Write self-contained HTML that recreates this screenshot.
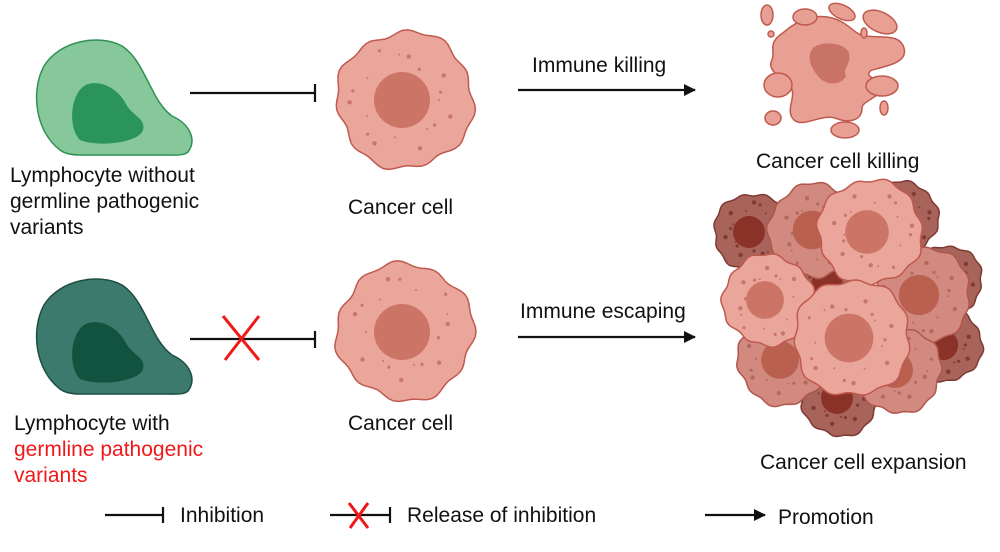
<!DOCTYPE html>
<html><head><meta charset="utf-8"><style>
body{margin:0;background:#fff;width:1000px;height:547px;overflow:hidden}
svg text{font-family:"Liberation Sans",Arial,sans-serif;font-size:21px;fill:#111}
</style></head><body>
<svg id="s" width="1000" height="547" viewBox="0 0 1000 547" xmlns="http://www.w3.org/2000/svg">
<defs><marker id="ah" markerWidth="12" markerHeight="12" refX="11" refY="6" orient="auto" markerUnits="userSpaceOnUse"><path d="M0,0 L12,6 L0,12 z" fill="#111"/></marker></defs>
<path d="M60,150 C36,132 30,92 44,66 C60,40 100,34 122,46 C146,62 150,100 172,116 C190,124 197,140 188,152 C184,156 175,155 160,155 L80,155 C70,155 64,153 60,150Z" fill="#86c89a" stroke="#2e9155" stroke-width="1.5"/>
<path d="M80,140 C68,128 70,96 84,86 C98,78 118,88 126,104 C132,116 146,118 143,130 C140,142 100,148 80,140Z" fill="#2b9458"/>
<g transform="translate(0,239)">
<path d="M60,150 C36,132 30,92 44,66 C60,40 100,34 122,46 C146,62 150,100 172,116 C190,124 197,140 188,152 C184,156 175,155 160,155 L80,155 C70,155 64,153 60,150Z" fill="#3b7a6c" stroke="#1e4e43" stroke-width="1.5"/>
<path d="M80,140 C68,128 70,96 84,86 C98,78 118,88 126,104 C132,116 146,118 143,130 C140,142 100,148 80,140Z" fill="#11533f"/>
</g>
<g stroke="#111" stroke-width="2.2" fill="none">
<line x1="190" y1="93" x2="315" y2="93"/><line x1="315" y1="84" x2="315" y2="102"/>
<line x1="190" y1="339" x2="315" y2="339"/><line x1="315" y1="331" x2="315" y2="348"/>
<line x1="518" y1="90" x2="695" y2="90" marker-end="url(#ah)"/>
<line x1="518" y1="337" x2="695" y2="337" marker-end="url(#ah)"/>
<line x1="105" y1="515" x2="163" y2="515"/><line x1="163" y1="507" x2="163" y2="523"/>
<line x1="330" y1="515" x2="390" y2="515"/><line x1="390" y1="507" x2="390" y2="523"/>
<line x1="705" y1="515" x2="765" y2="515" marker-end="url(#ah)"/>
</g>
<g stroke="#f01818" stroke-width="3">
<line x1="223" y1="316" x2="259" y2="360"/><line x1="259" y1="316" x2="225" y2="360"/>
<line x1="349" y1="503" x2="368" y2="528"/><line x1="368" y1="503" x2="350" y2="528"/>
</g>
<g id="cells"></g>
<g fill="#e8a095" stroke="#c0594e" stroke-width="1.5">
<path d="M784,32 C800,18 818,14 832,18 C848,22 854,34 864,36 C884,38 900,34 904,48 C908,62 888,66 872,70 C862,76 878,80 882,84 C886,96 862,100 862,108 C862,120 850,124 835,118 C820,114 804,128 794,120 C784,110 798,96 790,86 C782,78 766,70 772,60 C776,50 766,44 784,32Z"/>
<ellipse cx="767" cy="15" rx="6" ry="10"/><ellipse cx="805" cy="17" rx="12" ry="8"/><ellipse cx="842" cy="12" rx="14" ry="7" transform="rotate(25 842 12)"/>
<ellipse cx="880" cy="22" rx="18" ry="10" transform="rotate(25 880 22)"/><ellipse cx="882" cy="86" rx="16" ry="10"/>
<ellipse cx="778" cy="85" rx="14" ry="12"/><ellipse cx="773" cy="118" rx="8" ry="7"/><ellipse cx="845" cy="130" rx="14" ry="8"/><ellipse cx="884" cy="108" rx="4" ry="7"/><ellipse cx="771" cy="34" rx="3" ry="3"/><ellipse cx="864" cy="33" rx="3" ry="5"/>
</g>
<path d="M813,48 C823,40 845,43 849,53 C852,64 842,68 846,76 C841,86 825,86 818,76 C811,68 806,57 813,48Z" fill="#c97266"/>
<text x="10" y="182">Lymphocyte without</text>
<text x="10" y="208">germline pathogenic</text>
<text x="10" y="234">variants</text>
<text x="348" y="214">Cancer cell</text>
<text x="532" y="72">Immune killing</text>
<text x="756" y="168">Cancer cell killing</text>
<text x="520" y="318">Immune escaping</text>
<text x="348" y="430">Cancer cell</text>
<text x="14" y="430">Lymphocyte with</text>
<text x="14" y="456" style="fill:#f01818">germline pathogenic</text>
<text x="14" y="482" style="fill:#f01818">variants</text>
<text x="760" y="469">Cancer cell expansion</text>
<text x="180" y="522">Inhibition</text>
<text x="407" y="522">Release of inhibition</text>
<text x="778" y="524">Promotion</text>
</svg>
<script>
function cell(cx,cy,r,fill,stroke,nuc,nr,dot,seed){
 var n=11,d="",s=seed||0;
 for(var i=0;i<=90;i++){var a=i/90*Math.PI*2;var rr=r*(1+0.03*Math.sin(a*n+s)+0.03*Math.sin(a*4+s*2));
 var x=cx+rr*Math.cos(a),y=cy+rr*Math.sin(a);d+=(i?"L":"M")+x.toFixed(1)+","+y.toFixed(1);}
 var g='<path d="'+d+'Z" fill="'+fill+'" stroke="'+stroke+'" stroke-width="1.5"/>';
 g+='<circle cx="'+(cx-3)+'" cy="'+cy+'" r="'+nr+'" fill="'+nuc+'"/>';
 for(var k=0;k<18;k++){var a=k*2.4+s,rd=r*(0.5+0.35*((k*7%10)/10));g+='<circle cx="'+(cx+rd*Math.cos(a)).toFixed(1)+'" cy="'+(cy+rd*Math.sin(a)).toFixed(1)+'" r="'+(1+(k%3)*0.6)+'" fill="'+dot+'"/>';}
 return g;}
var L=["#eba69b","#c0594e","#cc7566",30,"#c9766a"],M=["#d28a80","#b0564b","#b9604f",27,"#b26a5e"],D=["#a8635a","#7d3a33","#8a3128",22,"#7e3c33"];
var cs=[[405,100,68,L],[405,332,68,L],
[752,232,38,D],[902,218,36,D],[948,280,34,D],[946,345,36,D],[840,398,38,D],[830,285,38,D],
[815,230,46,M],[922,295,48,M],[783,360,45,M],[898,370,43,M],
[870,232,52,L],[768,300,45,L],[852,338,58,L]];
var h="";cs.forEach(function(c,i){var t=c[3];var nr=c[0]==405?28:c[2]*0.42;h+=cell(c[0],c[1],c[2],t[0],t[1],t[2],nr,t[4],i*1.3);});
document.getElementById("cells").innerHTML=h;
</script>
</body></html>
